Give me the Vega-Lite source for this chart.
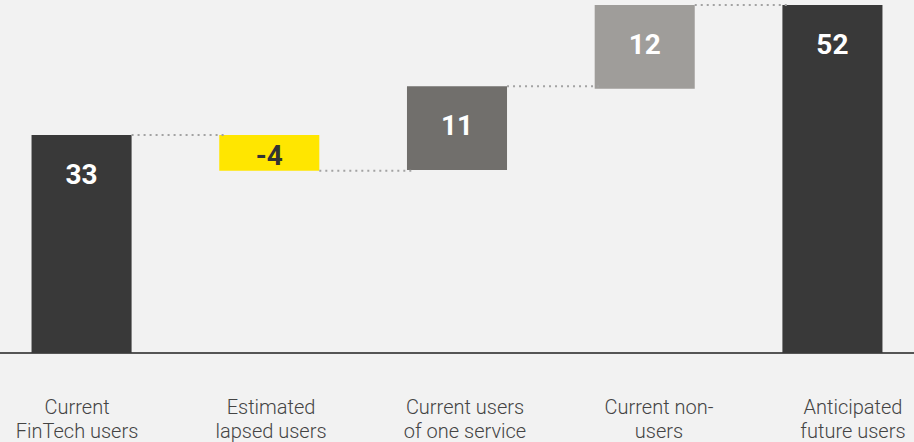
{
  "$schema": "https://vega.github.io/schema/vega-lite/v6.json",
  "width": 914,
  "height": 353,
  "autosize": "none",
  "padding": {"left": 0, "top": 0, "right": 0, "bottom": 89},
  "background": "#f2f2f2",
  "config": {"view": {"stroke": null}},
  "data": {
    "values": [
      {"category": "Current|FinTech users", "next": "Estimated|lapsed users", "start": 0, "end": 33, "label": "33", "kind": "total"},
      {"category": "Estimated|lapsed users", "next": "Current users|of one service", "start": 33, "end": 27.6, "label": "-4", "kind": "lapsed"},
      {"category": "Current users|of one service", "next": "Current non-|users", "start": 27.7, "end": 40.4, "label": "11", "kind": "one service"},
      {"category": "Current non-|users", "next": "Anticipated|future users", "start": 40.0, "end": 52.7, "label": "12", "kind": "non-users"},
      {"category": "Anticipated|future users", "next": null, "start": 0, "end": 52.7, "label": "52", "kind": "total"}
    ]
  },
  "transform": [{"calculate": "max(datum.start, datum.end)", "as": "top"}],
  "layer": [
    {
      "layer": [
        {
          "mark": {"type": "rule", "color": "#555555", "strokeWidth": 2},
          "encoding": {
            "y": {"datum": 0, "type": "quantitative", "scale": {"domain": [0, 53.44], "nice": false, "zero": false}, "axis": null}
          }
        },
        {
          "mark": {"type": "bar"},
          "encoding": {
            "x": {"field": "category", "type": "nominal", "sort": null,
              "scale": {"domain": ["Current|FinTech users", "Estimated|lapsed users", "Current users|of one service", "Current non-|users", "Anticipated|future users"], "paddingInner": 0.467, "paddingOuter": 0.168},
              "axis": null},
            "y": {"field": "start", "type": "quantitative", "scale": {"domain": [0, 53.44], "nice": false, "zero": false}, "axis": null},
            "y2": {"field": "end"},
            "color": {"field": "kind", "type": "nominal",
              "scale": {"domain": ["total", "lapsed", "one service", "non-users"], "range": ["#393939", "#ffe600", "#716f6c", "#9f9d9a"]},
              "legend": null}
          }
        },
        {
          "transform": [{"filter": "datum.next != null"}],
          "mark": {"type": "rule", "strokeDash": [2, 4], "color": "#a3a3a3", "strokeWidth": 2},
          "encoding": {
            "x": {"field": "category", "type": "nominal", "sort": null, "bandPosition": 1,
              "scale": {"domain": ["Current|FinTech users", "Estimated|lapsed users", "Current users|of one service", "Current non-|users", "Anticipated|future users"], "paddingInner": 0.467, "paddingOuter": 0.168},
              "axis": null},
            "x2": {"field": "next", "bandPosition": 0.06},
            "y": {"field": "end", "type": "quantitative"}
          }
        },
        {
          "transform": [{"filter": "datum.kind != 'lapsed'"}],
          "mark": {"type": "text", "font": "Roboto", "fontWeight": "bold", "fontSize": 28, "baseline": "middle", "dy": 41, "color": "#ffffff"},
          "encoding": {
            "x": {"field": "category", "type": "nominal", "sort": null, "axis": null},
            "y": {"field": "top", "type": "quantitative"},
            "text": {"field": "label"}
          }
        },
        {
          "transform": [{"filter": "datum.kind == 'lapsed'"}],
          "mark": {"type": "text", "font": "Roboto", "fontWeight": "bold", "fontSize": 28, "baseline": "middle", "dy": 22, "color": "#333333"},
          "encoding": {
            "x": {"field": "category", "type": "nominal", "sort": null, "axis": null},
            "y": {"field": "top", "type": "quantitative"},
            "text": {"field": "label"}
          }
        }
      ]
    },
    {
      "mark": {"type": "tick", "opacity": 0},
      "encoding": {
        "x": {"field": "category", "type": "nominal", "sort": null,
          "scale": {"domain": ["Current|FinTech users", "Estimated|lapsed users", "Current users|of one service", "Current non-|users", "Anticipated|future users"], "paddingInner": 0.5, "paddingOuter": 0.106},
          "axis": {
            "orient": "bottom", "title": null, "domain": false, "ticks": false, "labelAngle": 0,
            "labelExpr": "split(datum.label, '|')",
            "labelFont": "Roboto", "labelFontSize": 20, "labelFontWeight": 300, "labelColor": "#444444",
            "labelPadding": 44, "labelLineHeight": 24, "labelLimit": 0, "labelOverlap": false, "labelOffset": 8
          }}
      }
    }
  ],
  "resolve": {"scale": {"x": "independent"}}
}
